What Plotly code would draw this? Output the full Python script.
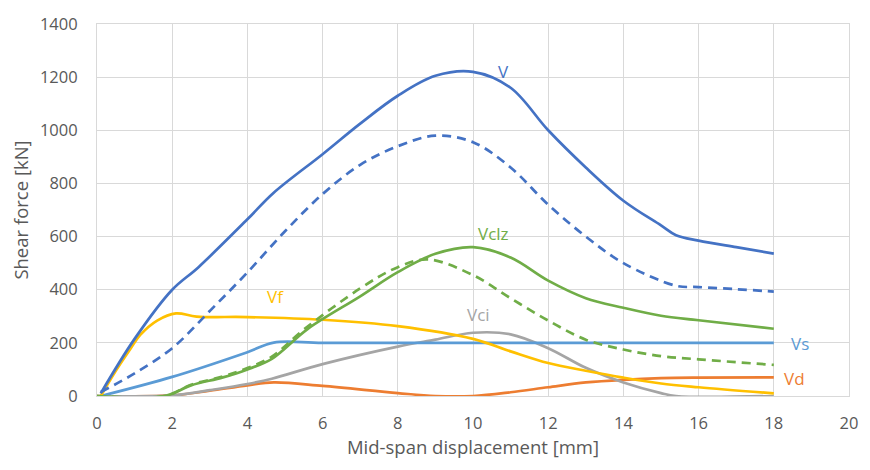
import plotly.graph_objects as go

# Data
x_V = [0.1, 1.0, 2.0, 2.7, 4.0, 4.7, 6.0, 7.0, 8.0, 9.0, 10.0, 11.0, 12.0, 13.0, 14.0, 15.0, 15.4, 16.0, 17.0, 18.0]
y_V = [10, 215, 400, 485, 665, 765, 910, 1025, 1130, 1205, 1220, 1160, 1000, 860, 735, 642, 605, 585, 560, 536]

x_Vd2 = [0.1, 1.0, 2.0, 3.0, 4.0, 5.0, 6.0, 7.0, 8.0, 9.0, 10.0, 11.0, 12.0, 13.0, 14.0, 15.4, 16.0, 17.0, 18.0]
y_Vd2 = [15, 85, 180, 320, 465, 620, 760, 870, 940, 980, 955, 860, 720, 600, 500, 415, 410, 402, 393]

x_Vs = [0.1, 2.0, 4.0, 4.7, 6.0, 10.0, 14.0, 18.0]
y_Vs = [0, 72, 165, 201, 200, 200, 200, 200]

x_Vf = [0.1, 0.5, 0.9, 1.15, 1.6, 2.1, 2.65, 4.0, 6.0, 8.0, 10.0, 11.0, 12.0, 13.0, 14.0, 15.0, 16.0, 18.0]
y_Vf = [0, 95, 180, 230, 284, 311, 299, 297, 287, 263, 215, 168, 124, 95, 69, 47, 33, 10]

x_Vclz = [0.0, 1.8, 2.5, 3.35, 4.0, 4.65, 5.6, 7.0, 8.0, 9.0, 10.0, 11.0, 12.0, 13.0, 14.0, 15.0, 16.0, 18.0]
y_Vclz = [0, 0, 40, 70, 100, 140, 252, 375, 466, 535, 560, 521, 434, 368, 332, 302, 285, 253]

x_Vclz2 = [0.0, 1.8, 2.5, 3.35, 4.0, 4.65, 5.5, 7.0, 8.0, 8.8, 10.0, 11.0, 12.0, 13.0, 14.0, 15.0, 16.0, 18.0]
y_Vclz2 = [0, 0, 42, 74, 105, 148, 250, 405, 485, 514, 455, 368, 284, 212, 175, 150, 138, 117]

x_Vci = [0.0, 2.0, 3.0, 4.0, 4.65, 6.0, 8.0, 9.0, 10.0, 11.0, 12.0, 13.0, 14.0, 15.0, 15.4, 18.0]
y_Vci = [0, 2, 22, 45, 65, 120, 186, 212, 238, 232, 180, 106, 51, 11, 0, 0]

x_Vd = [0.0, 2.0, 3.0, 4.0, 4.7, 6.0, 8.0, 9.0, 10.0, 11.0, 12.0, 13.0, 14.0, 15.0, 16.0, 18.0]
y_Vd = [0, 2, 20, 40, 51, 38, 11, 0, 0, 14, 33, 51, 61, 67, 69, 70]

C_V = "#4472C4"
C_VS = "#5B9BD5"
C_VF = "#FFC000"
C_VCLZ = "#70AD47"
C_VCI = "#A5A5A5"
C_VD = "#ED7D31"

FONT = "Open Sans, sans-serif"

fig = go.Figure()

def add(x, y, color, dash="solid"):
    fig.add_trace(go.Scatter(x=x, y=y, mode="lines",
                             line=dict(color=color, width=2.7, dash=dash, shape="spline", smoothing=1.0),
                             showlegend=False, hoverinfo="skip"))

add(x_Vd, y_Vd, C_VD)
add(x_Vci, y_Vci, C_VCI)
add(x_Vs, y_Vs, C_VS)
add(x_Vf, y_Vf, C_VF)
add(x_Vclz2, y_Vclz2, C_VCLZ, "9px,6px")
add(x_Vclz, y_Vclz, C_VCLZ)
add(x_Vd2, y_Vd2, C_V, "9px,6px")
add(x_V, y_V, C_V)

labels = [
    ("V", 10.8, 1222, C_V),
    ("Vclz", 10.55, 612, C_VCLZ),
    ("Vf", 4.75, 375, C_VF),
    ("Vci", 10.15, 306, C_VCI),
    ("Vs", 18.7, 197, C_VS),
    ("Vd", 18.55, 66, C_VD),
]
for t, x, y, c in labels:
    fig.add_annotation(x=x, y=y, text=t, showarrow=False,
                       font=dict(family=FONT, size=17, color=c))

axis_font = dict(family=FONT, size=16.5, color="#595959")
fig.update_layout(
    width=870, height=470,
    margin=dict(l=97, r=14, t=12, b=74),
    plot_bgcolor="white", paper_bgcolor="white",
    xaxis=dict(range=[0, 20], dtick=2, showgrid=True, gridcolor="#D9D9D9", gridwidth=1,
               showline=True, mirror=True, linecolor="#D9D9D9", zeroline=False,
               tickfont=axis_font, ticks="outside", ticklen=12, tickcolor="rgba(0,0,0,0)",
               title=dict(text="Mid-span displacement [mm]", font=dict(family=FONT, size=18.5, color="#595959"), standoff=8)),
    yaxis=dict(range=[0, 1400], dtick=200, showgrid=True, gridcolor="#D9D9D9", gridwidth=1,
               showline=True, mirror=True, linecolor="#D9D9D9", zeroline=False,
               tickfont=axis_font, ticks="outside", ticklen=15, tickcolor="rgba(0,0,0,0)",
               title=dict(text="Shear force [kN]", font=dict(family=FONT, size=18.5, color="#595959"), standoff=6)),
)

fig.write_html("out.html")
